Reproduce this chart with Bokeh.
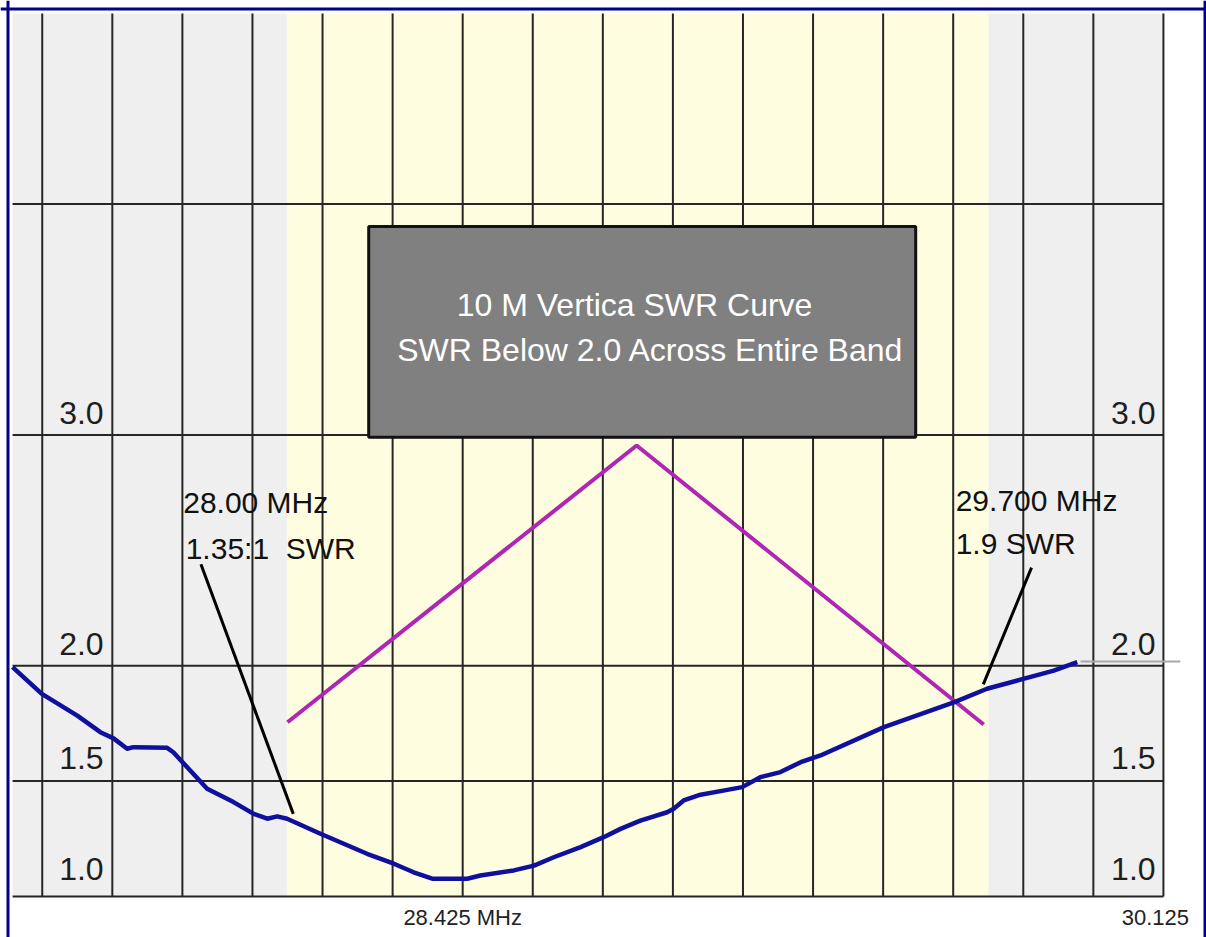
from bokeh.plotting import figure, ColumnDataSource
from bokeh.models import Range1d, Span
from bokeh.core.properties import value
from bokeh.embed import file_html
from bokeh.resources import INLINE

# ---------------- data ----------------
freq_mhz = [27.333, 27.404, 27.490, 27.546, 27.578, 27.611, 27.626, 27.708, 27.723,
            27.805, 27.869, 27.918, 27.951, 27.975, 27.999, 28.080, 28.193, 28.258,
            28.306, 28.351, 28.436, 28.468, 28.549, 28.598, 28.646, 28.711, 28.767,
            28.808, 28.856, 28.921, 28.937, 28.961, 29.002, 29.067, 29.103, 29.147,
            29.196, 29.245, 29.293, 29.447, 29.618, 29.697, 29.785, 29.859, 29.916]
swr = [1.994, 1.878, 1.784, 1.712, 1.685, 1.640, 1.647, 1.644, 1.625,
       1.467, 1.409, 1.358, 1.337, 1.347, 1.337, 1.272, 1.185, 1.142,
       1.105, 1.077, 1.077, 1.091, 1.113, 1.134, 1.170, 1.214, 1.257,
       1.293, 1.329, 1.365, 1.380, 1.416, 1.441, 1.462, 1.474, 1.517,
       1.539, 1.582, 1.611, 1.734, 1.842, 1.900, 1.943, 1.979, 2.015]

sweep_limits = [27.333, 30.125]          # analyzer sweep (MHz)
band_limits = [28.0, 29.7]               # 10 m band (MHz)
swr_limits = [1.0, 4.826]
x_grid = [27.405, 27.575, 27.745, 27.915, 28.085, 28.255, 28.425, 28.595, 28.765,
          28.935, 29.105, 29.275, 29.445, 29.615, 29.785, 29.955, 30.125]
y_grid = [1.0, 1.5, 2.0, 3.0, 4.0]
y_tick_vals = [1.0, 1.5, 2.0, 3.0]
y_tick_text = ["1.0", "1.5", "2.0", "3.0"]
x_tick_vals = [28.425, 30.125]
x_tick_text = ["28.425 MHz", "30.125"]

tail_freq = [29.924, 30.166]             # grey marker line at end of curve
tail_swr = [2.018, 2.018]

vee_freq = [28.0, 28.847, 29.689]        # magenta inverted V
vee_swr = [1.755, 2.954, 1.745]

note_text = ["28.00 MHz", "1.35:1\u00a0\u00a0SWR", "29.700 MHz", "1.9 SWR"]
note_freq = [27.747, 27.753, 29.621, 29.621]
note_swr = [2.664, 2.464, 2.672, 2.486]

lead_f0 = [27.790, 29.805]
lead_s0 = [2.440, 2.425]
lead_f1 = [28.014, 29.688]
lead_s1 = [1.358, 1.919]

box_lim = [28.197, 29.524, 2.99, 3.903]  # left, right, bottom, top
box_text = ["10 M Vertica SWR Curve", "SWR Below 2.0 Across Entire Band"]
box_text_f = [28.842, 28.881]
box_text_s = [3.517, 3.320]

# ---------------- geometry ----------------
W, H = 1206, 937
PX_MHZ, PX_SWR = 412.2, 230.8
F_AT_LEFT = 28.0 - 287.0 / PX_MHZ           # canvas left edge
S_AT_TOP = 1.0 + 896.0 / PX_SWR             # canvas top edge

x_range = Range1d(F_AT_LEFT, F_AT_LEFT + W / PX_MHZ)
y_range = Range1d(S_AT_TOP - H / PX_SWR, S_AT_TOP)

p = figure(width=W, height=H, x_range=x_range, y_range=y_range,
           output_backend="svg", toolbar_location=None,
           x_axis_location=None, y_axis_location=None,
           min_border=0, min_border_left=0, min_border_right=0,
           min_border_top=0, min_border_bottom=0)
p.grid.visible = False
p.outline_line_color = None
p.background_fill_color = "white"
p.border_fill_color = "white"

FONT = value("Liberation Sans")

# backgrounds
p.quad(left=[sweep_limits[0], band_limits[1]], right=[band_limits[0], sweep_limits[1]],
       bottom=swr_limits[0], top=swr_limits[1], fill_color="#EFEFEF", line_color=None)
p.quad(left=band_limits[0], right=band_limits[1], bottom=swr_limits[0], top=swr_limits[1],
       fill_color="#FFFDE0", line_color=None)

# grid
p.segment(x0=x_grid, y0=swr_limits[0], x1=x_grid, y1=swr_limits[1],
          line_color="#262626", line_width=2)
p.segment(x0=sweep_limits[0], y0=y_grid, x1=sweep_limits[1], y1=y_grid,
          line_color="#262626", line_width=2)

# y labels left & right
ysrc = ColumnDataSource(dict(y=y_tick_vals, t=y_tick_text, dy=[-28, -23, -22, -22]))
p.text(x=27.50, y="y", text="t", source=ysrc, y_offset="dy",
       text_font=FONT, text_font_size="32px", text_color="#1E1E1E",
       text_align="center", text_baseline="alphabetic")
p.text(x=30.052, y="y", text="t", source=ysrc, y_offset="dy",
       text_font=FONT, text_font_size="32px", text_color="#1E1E1E",
       text_align="center", text_baseline="alphabetic")

# x labels
p.text(x=x_tick_vals, y=swr_limits[0], text=x_tick_text, x_offset=[0, -8], y_offset=21,
       text_font=FONT, text_font_size="22px", text_color="#222222",
       text_align="center", text_baseline="alphabetic")

# magenta inverted V
p.line(vee_freq, vee_swr, line_color="#B026B4", line_width=4)

# title box
p.quad(left=box_lim[0], right=box_lim[1], bottom=box_lim[2], top=box_lim[3],
       fill_color="#808080", line_color="#111111", line_width=3)
p.text(x=box_text_f, y=box_text_s, text=box_text, y_offset=-11,
       text_font=FONT, text_font_size="32px", text_color="white",
       text_align="center", text_baseline="alphabetic")

# leader lines
p.segment(x0=lead_f0, y0=lead_s0, x1=lead_f1, y1=lead_s1, line_color="black", line_width=3)

# notes
p.text(x=note_freq, y=note_swr, text=note_text, y_offset=-10,
       text_font=FONT, text_font_size="30px", text_color="#111111",
       text_align="left", text_baseline="alphabetic")

# SWR curve
p.line(tail_freq, tail_swr, line_color="#A8A8A8", line_width=2)
p.line(freq_mhz, swr, line_color="#10109E", line_width=4.5, line_join="round")

# navy frame (left, top, right)
NAVY = "#000088"
p.add_layout(Span(location=F_AT_LEFT + 7.5 / PX_MHZ, dimension="height",
                  line_color=NAVY, line_width=3))
p.add_layout(Span(location=F_AT_LEFT + 1204.5 / PX_MHZ, dimension="height",
                  line_color=NAVY, line_width=3))
p.add_layout(Span(location=S_AT_TOP - 8.5 / PX_SWR, dimension="width",
                  line_color=NAVY, line_width=3))

open("out.html", "w").write(file_html(p, INLINE))
